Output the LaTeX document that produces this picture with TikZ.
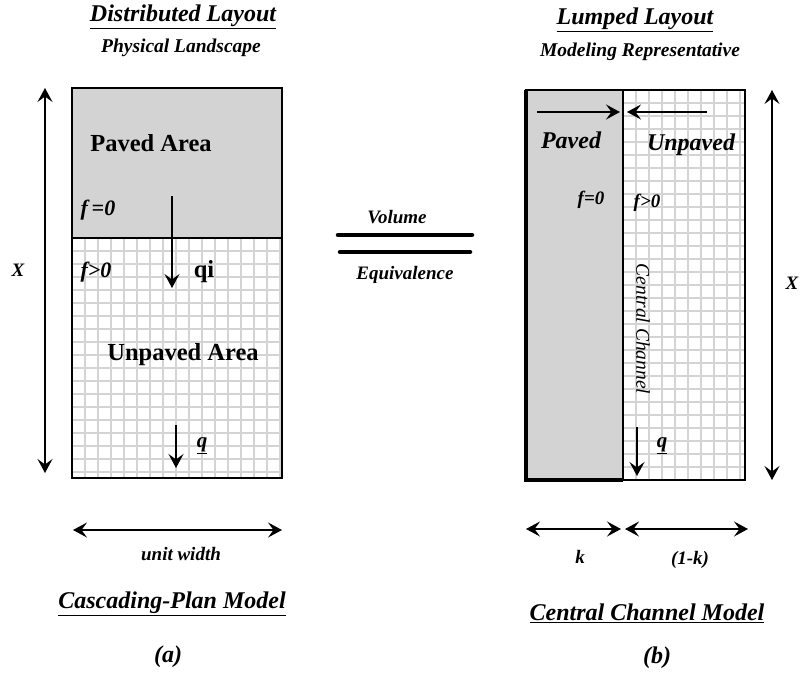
\documentclass[tikz,border=0pt]{standalone}
\usepackage{fontspec}
\setmainfont{Liberation Serif}
\usepackage{tikz}
\usetikzlibrary{arrows.meta}
\definecolor{pavedgray}{RGB}{211,211,211}
\definecolor{gridgray}{RGB}{212,212,212}

\begin{document}
\begin{tikzpicture}[x=1pt,y=-1pt,>={Stealth[length=14pt,width=15pt,inset=5.5pt]},
                    semithick]
  \tikzstyle{title}=[font=\fontsize{24}{28}\selectfont\bfseries\itshape]
  \tikzstyle{subtitle}=[font=\fontsize{19.5}{23}\selectfont\bfseries\itshape]
  \tikzstyle{lbl}=[font=\fontsize{19}{22}\selectfont\bfseries\itshape]
  \tikzstyle{area}=[font=\fontsize{24.5}{28}\selectfont\bfseries]
  \tikzstyle{flow}=[->,line width=1.5pt]
  \tikzstyle{span}=[<->,line width=1.5pt]
  \tikzstyle{gridline}=[draw=gridgray,line width=1.6pt]
  \tikzstyle{outline}=[line width=2.8pt]
  \useasboundingbox (0,0) rectangle (802,675);

  % (a) distributed layout
  \fill[pavedgray] (72,88) rectangle (282,238);
  \foreach \gx in {13,26,...,208}
    \draw[gridline] ({72+\gx},238) -- ({72+\gx},478);
  \foreach \gy in {13,26,...,234}
    \draw[gridline] (72,{238+\gy}) -- (282,{238+\gy});
  \draw[outline] (72,88) rectangle (282,478);
  \draw[line width=2.2pt] (72,238) -- (282,238);

  \node[title] (dist) at (183,17) {\underline{Distributed Layout}};
  \node[subtitle] (phys) at (181,48) {Physical Landscape};
  \node[area] (paved) at (151,143) {Paved Area};
  \node[area] (unpaved) at (183,355) {Unpaved Area};
  \node[font=\fontsize{22}{26}\selectfont\bfseries\itshape] (fzero) at (98,210) {f\,=0};
  \node[font=\fontsize{22}{26}\selectfont\bfseries\itshape] (fpos) at (96,272) {f>0};
  \node[area] (qi) at (204,272) {qi};
  \node[lbl] (xleft) at (18,270) {X};
  \node[font=\fontsize{21}{24}\selectfont\bfseries\itshape] (qleft) at (202,446) {\underline{q}};

  \coordinate (xtop) at (45,88);
  \coordinate (xbot) at (45,473);
  \coordinate (qitop) at (172,196);
  \coordinate (qibot) at (172,288);
  \coordinate (qtop) at (176,425);
  \coordinate (qbot) at (176,468);
  \coordinate (uwl) at (73,530);
  \coordinate (uwr) at (282,530);

  \draw[span] (xtop) -- (xbot);
  \draw[flow] (qitop) -- (qibot);
  \draw[flow] (qtop) -- (qbot);
  \draw[span] (uwl) -- (uwr);

  \node[lbl] (unitw) at (181,554) {unit width};
  \node[title] (cascade) at (172,604) {\underline{Cascading-Plan Model}};
  \node[title] (capa) at (168,657) {(a)};

  % equivalence sign
  \node[lbl] (vol) at (397,217) {Volume};
  \node[lbl] (equiv) at (405,275) {Equivalence};
  \draw[line width=4.5pt,line cap=round] (338,235) -- (472,235);
  \draw[line width=4.5pt,line cap=round] (340,252) -- (470,252);

  % (b) lumped layout
  \fill[pavedgray] (526,90) rectangle (623,480);
  \foreach \gx in {13,26,...,117}
    \draw[gridline] ({623+\gx},90) -- ({623+\gx},480);
  \foreach \gy in {13,26,...,377}
    \draw[gridline] (623,{90+\gy}) -- (745,{90+\gy});
  \draw[outline] (526,90) rectangle (745,480);
  \draw[line width=2.2pt] (623,90) -- (623,480);
  \draw[line width=4.5pt] (526,90) -- (526,480) -- (623,480);

  \node[title] (lumped) at (635,20) {\underline{Lumped Layout}};
  \node[subtitle] (model) at (640,52) {Modeling Representative};
  \node[title] (pavedb) at (571,140) {Paved};
  \node[title] (unpavedb) at (691,145) {Unpaved};
  \node[font=\fontsize{19}{22}\selectfont\bfseries\itshape] (fzerob) at (591,200) {f=0};
  \node[font=\fontsize{19}{22}\selectfont\bfseries\itshape] (fposb) at (647,203) {f>0};
  \node[font=\fontsize{19.5}{23}\selectfont\itshape,rotate=-90] (chan) at (643,329) {Central Channel};
  \node[font=\fontsize{21}{24}\selectfont\bfseries\itshape] (qright) at (662,446) {\underline{q}};
  \node[lbl] (xright) at (792,283) {X};

  \coordinate (pin) at (537,112);
  \coordinate (pout) at (620,112);
  \coordinate (uin) at (707,112);
  \coordinate (uout) at (627,112);
  \coordinate (cqtop) at (637,427);
  \coordinate (cqbot) at (637,476);
  \coordinate (xrtop) at (772,90);
  \coordinate (xrbot) at (772,480);
  \coordinate (kl) at (526,529);
  \coordinate (kr) at (621,529);
  \coordinate (ol) at (625,529);
  \coordinate (or) at (748,529);

  \draw[flow] (pin) -- (pout);
  \draw[flow] (uin) -- (uout);
  \draw[flow] (cqtop) -- (cqbot);
  \draw[span] (xrtop) -- (xrbot);
  \draw[span] (kl) -- (kr);
  \draw[span] (ol) -- (or);

  \node[lbl] (klbl) at (580,557) {k};
  \node[lbl] (oneminus) at (690,560) {(1-k)};
  \node[title] (central) at (647,613) {\underline{Central Channel Model}};
  \node[title] (capb) at (657,658) {(b)};
\end{tikzpicture}
\end{document}
